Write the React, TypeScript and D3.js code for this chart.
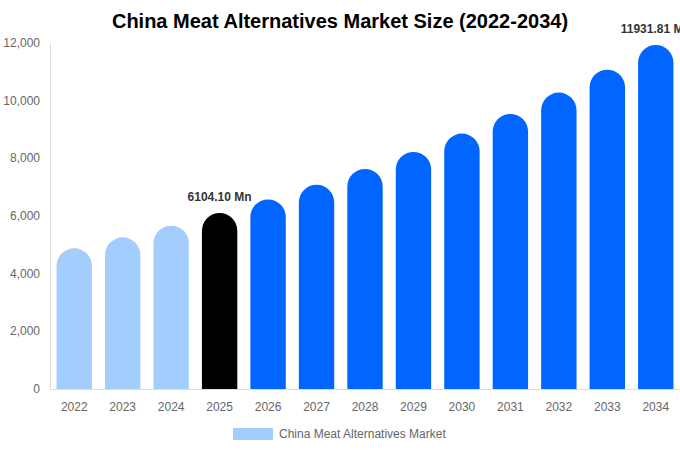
import * as d3 from 'd3';
import { useEffect, useRef } from 'react';

const years = ['2022', '2023', '2024', '2025', '2026', '2027', '2028', '2029', '2030', '2031', '2032', '2033', '2034'];
const marketSize = [4880, 5260, 5665, 6104.1, 6576, 7085, 7632, 8222, 8857, 9542, 10280, 11075, 11931.81];
const barKinds = ['past', 'past', 'past', 'base', 'future', 'future', 'future', 'future', 'future', 'future', 'future', 'future', 'future'];
const labelledYears = ['2025', '2034'];
const yTicks = [0, 2000, 4000, 6000, 8000, 10000, 12000];

export default function App() {
  const w = 680;
  const h = 450;
  const svgRef = useRef<SVGSVGElement>(null);

  useEffect(() => {
    document.body.style.margin = '0';
    if (svgRef.current == null) {
      return;
    }
    const svg = d3.select(svgRef.current);
    svg.selectAll('*').remove();
    const font = '"Liberation Sans", Arial, Helvetica, sans-serif';

    const xScale = d3.scaleBand().domain(years).range([50, 680]).paddingInner(0.27).paddingOuter(0.135);
    const yScale = d3.scaleLinear().domain([0, 12000]).range([389, 43]);
    const colors: Record<string, string> = { past: '#a2cdfd', base: '#000000', future: '#0066ff' };

    svg
      .append('text')
      .attr('x', 340)
      .attr('y', 28)
      .attr('text-anchor', 'middle')
      .style('font', `bold 20px ${font}`)
      .attr('fill', '#000')
      .text('China Meat Alternatives Market Size (2022-2034)');

    // axes lines
    svg.append('line').attr('x1', 50.5).attr('x2', 50.5).attr('y1', 43).attr('y2', 389).attr('stroke', '#dddddd');
    svg.append('line').attr('x1', 50).attr('x2', 680).attr('y1', 389.5).attr('y2', 389.5).attr('stroke', '#dddddd');

    svg
      .append('g')
      .selectAll('text')
      .data(yTicks)
      .join('text')
      .attr('x', 40)
      .attr('y', (d) => yScale(d) + 4)
      .attr('text-anchor', 'end')
      .style('font', `12px ${font}`)
      .attr('fill', '#666')
      .text((d) => d3.format(',')(d));

    svg
      .append('g')
      .selectAll('text')
      .data(years)
      .join('text')
      .attr('x', (d) => (xScale(d) ?? 0) + xScale.bandwidth() / 2)
      .attr('y', 411)
      .attr('text-anchor', 'middle')
      .style('font', `12px ${font}`)
      .attr('fill', '#666')
      .text((d) => d);

    const bw = xScale.bandwidth();
    const r = bw / 2;
    svg
      .append('g')
      .selectAll('path')
      .data(years)
      .join('path')
      .attr('fill', (_, i) => colors[barKinds[i]])
      .attr('d', (d, i) => {
        const x0 = xScale(d) ?? 0;
        const y0 = yScale(0);
        const yt = yScale(marketSize[i]);
        return `M${x0},${y0} L${x0},${yt + r} A${r},${r} 0 0 1 ${x0 + bw},${yt + r} L${x0 + bw},${y0} Z`;
      });

    svg
      .append('g')
      .selectAll('text')
      .data(labelledYears)
      .join('text')
      .attr('x', (d) => (xScale(d) ?? 0) + bw / 2)
      .attr('y', (d) => yScale(marketSize[years.indexOf(d)]) - 12)
      .attr('text-anchor', 'middle')
      .style('font', `bold 12px ${font}`)
      .attr('fill', '#333')
      .text((d) => `${d3.format('.2f')(marketSize[years.indexOf(d)])} Mn`);

    svg.append('rect').attr('x', 233).attr('y', 428).attr('width', 40).attr('height', 12).attr('fill', '#a2cdfd');
    svg
      .append('text')
      .attr('x', 279)
      .attr('y', 438)
      .style('font', `12px ${font}`)
      .attr('fill', '#666')
      .text('China Meat Alternatives Market');
  }, []);

  return <svg ref={svgRef} width={w} height={h} style={{ display: 'block' }}></svg>;
}
